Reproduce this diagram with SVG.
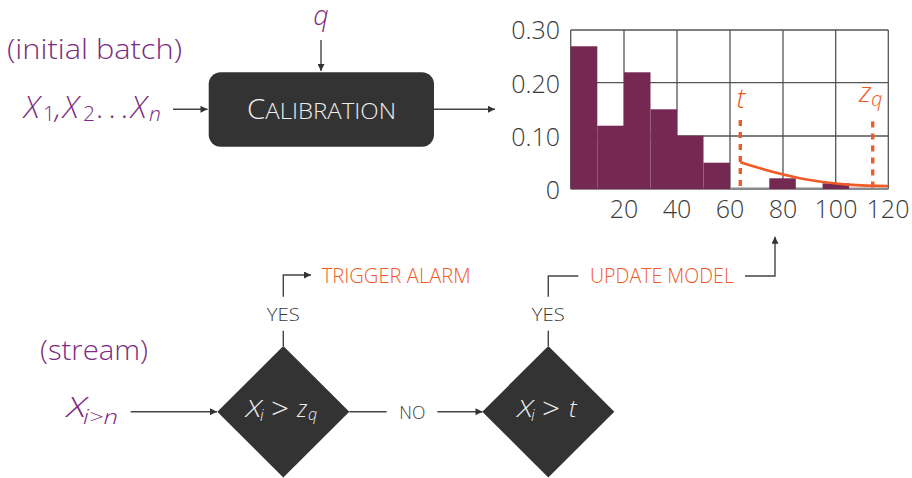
<svg xmlns="http://www.w3.org/2000/svg" width="912" height="478" viewBox="0 0 912 478">
<defs>
<style>
text{font-family:"Open Sans","Noto Sans","DejaVu Sans",sans-serif;font-weight:300}
.pu{fill:#7b2b80}
.or{fill:#f05a26}
.dk{fill:#333}
.lt{fill:#eeeeee}
.it{font-style:italic}
.ax{font-size:25px;fill:#3a3a3a}
.lbl{font-size:18.6px;fill:#3a3a3a}
.cap{font-size:19.5px;fill:#f05a26}
.con{stroke:#444;stroke-width:1.4;fill:none}
.arr{marker-end:url(#ah)}
.grid{stroke:#555;stroke-width:1.3;fill:none}
.bar{fill:#752952}
.node{fill:#333}
</style>
<marker id="ah" viewBox="0 0 10 10" refX="10" refY="5" markerWidth="9" markerHeight="7" markerUnits="userSpaceOnUse" orient="auto">
<path d="M0,0 L10,5 L0,10 z" fill="#333"/>
</marker>
</defs>

<g id="label-initial-batch">
<text class="pu" x="7" y="59" font-size="28" textLength="175" lengthAdjust="spacingAndGlyphs">(initial batch)</text>
</g>

<g id="input-batch">
<text class="pu it" x="24" y="117.5" font-size="31">X</text>
<text class="pu" x="43" y="121" font-size="21">1</text>
<text class="pu it" x="55" y="117.5" font-size="30">,</text>
<text class="pu it" x="63" y="117.5" font-size="31">X</text>
<text class="pu" x="83" y="121" font-size="21">2</text>
<text class="pu" x="96" y="117.5" font-size="30" textLength="32" lengthAdjust="spacing">. . .</text>
<text class="pu it" x="131" y="117.5" font-size="31">X</text>
<text class="pu it" x="149" y="121" font-size="21">n</text>
</g>

<g id="input-q">
<text class="pu it" x="321" y="25" font-size="27" text-anchor="middle">q</text>
</g>

<g id="calibration">
<rect class="node" x="208.7" y="72.3" width="225.3" height="74.4" rx="12"/>
<text class="lt" x="247" y="119" textLength="149" lengthAdjust="spacingAndGlyphs"><tspan font-size="27">C</tspan><tspan font-size="22">ALIBRATION</tspan></text>
</g>

<g id="chart">
<g class="grid">
<line x1="570.7" y1="30" x2="888.3" y2="30"/>
<line x1="570.7" y1="82.7" x2="888.3" y2="82.7"/>
<line x1="570.7" y1="136" x2="888.3" y2="136"/>
<line x1="570.7" y1="30" x2="570.7" y2="189"/>
<line x1="624" y1="30" x2="624" y2="189"/>
<line x1="677" y1="30" x2="677" y2="189"/>
<line x1="730" y1="30" x2="730" y2="189"/>
<line x1="783" y1="30" x2="783" y2="189"/>
<line x1="835.7" y1="30" x2="835.7" y2="189"/>
<line x1="888.3" y1="30" x2="888.3" y2="189"/>
</g>
<line x1="570.7" y1="188.8" x2="888.3" y2="188.8" stroke="#8a8a8a" stroke-width="2.4"/>
<rect class="bar" x="570.7" y="46.3" width="26.6" height="142.7"/>
<rect class="bar" x="597.3" y="125.7" width="26.7" height="63.3"/>
<rect class="bar" x="624" y="72.3" width="26.5" height="116.7"/>
<rect class="bar" x="650.5" y="109.3" width="26.5" height="79.7"/>
<rect class="bar" x="677" y="135.7" width="26.5" height="53.3"/>
<rect class="bar" x="703.5" y="162.7" width="26.5" height="26.3"/>
<rect class="bar" x="769.3" y="178.3" width="26.5" height="10.7"/>
<rect class="bar" x="822.6" y="183.3" width="26.5" height="5.7"/>
<path d="M740.3,162.3 C780,175 820,186 888.3,186" stroke="#f05a26" stroke-width="2.6" fill="none"/>
<line x1="740.3" y1="120" x2="740.3" y2="189" stroke="#f05a26" stroke-width="3.4" stroke-dasharray="6 6"/>
<line x1="872.7" y1="121.5" x2="872.7" y2="189" stroke="#f05a26" stroke-width="3.4" stroke-dasharray="6 6"/>
<text class="or it" x="741" y="108" font-size="28" text-anchor="middle">t</text>
<text class="or it" x="859" y="102" font-size="28">z</text>
<text class="or it" x="871" y="106" font-size="20">q</text>
<g class="ax" text-anchor="end">
<text x="560" y="39">0.30</text>
<text x="560" y="92.5">0.20</text>
<text x="560" y="146">0.10</text>
<text x="560" y="199">0</text>
</g>
<g class="ax" text-anchor="middle">
<text x="624" y="218">20</text>
<text x="677" y="218">40</text>
<text x="730" y="218">60</text>
<text x="783" y="218">80</text>
<text x="836" y="218">100</text>
<text x="888" y="218">120</text>
</g>
</g>

<g id="label-stream">
<text class="pu" x="40" y="360" font-size="28" textLength="108" lengthAdjust="spacingAndGlyphs">(stream)</text>
</g>

<g id="input-stream">
<text class="pu it" x="67" y="417" font-size="28" textLength="19" lengthAdjust="spacingAndGlyphs">X</text>
<text class="pu it" x="83" y="424" font-size="20" textLength="35" lengthAdjust="spacingAndGlyphs">i&gt;n</text>
</g>

<g id="decision-zq">
<path class="node" d="M283.3,346 L349.3,411.7 L283.3,477.4 L217.3,411.7 z"/>
<text class="lt it" x="246" y="417" font-size="23" textLength="15" lengthAdjust="spacingAndGlyphs">X</text>
<text class="lt it" x="260" y="420.5" font-size="16">i</text>
<text class="lt" x="271" y="418.5" font-size="29" textLength="18" lengthAdjust="spacingAndGlyphs">&gt;</text>
<text class="lt it" x="297" y="417" font-size="23">z</text>
<text class="lt it" x="308" y="419.5" font-size="16">q</text>
</g>

<g id="decision-t">
<path class="node" d="M548.3,346 L614.3,411.7 L548.3,477.4 L482.3,411.7 z"/>
<text class="lt it" x="517.5" y="417" font-size="23" textLength="15" lengthAdjust="spacingAndGlyphs">X</text>
<text class="lt it" x="531" y="420.5" font-size="16">i</text>
<text class="lt" x="542" y="418.5" font-size="29" textLength="18" lengthAdjust="spacingAndGlyphs">&gt;</text>
<text class="lt it" x="569" y="417" font-size="24">t</text>
</g>

<g id="action-trigger-alarm">
<text class="cap" x="321.7" y="283.3" textLength="149" lengthAdjust="spacingAndGlyphs">TRIGGER ALARM</text>
</g>

<g id="action-update-model">
<text class="cap" x="590" y="283.3" textLength="144" lengthAdjust="spacingAndGlyphs">UPDATE MODEL</text>
</g>

<g id="connectors">
<line class="con arr" x1="321" y1="40" x2="321" y2="71"/>
<line class="con arr" x1="173" y1="109.3" x2="207.5" y2="109.3"/>
<line class="con arr" x1="434" y1="109.3" x2="495" y2="109.3"/>
<line class="con arr" x1="130.7" y1="411.7" x2="217" y2="411.7"/>
<line class="con" x1="349.3" y1="411.7" x2="386.7" y2="411.7"/>
<line class="con arr" x1="437.3" y1="411.7" x2="482.5" y2="411.7"/>
<line class="con" x1="283.3" y1="346" x2="283.3" y2="330.7"/>
<polyline class="con arr" points="283.3,296.7 283.3,275 311,275"/>
<line class="con" x1="548.3" y1="346" x2="548.3" y2="330.7"/>
<polyline class="con" points="548.3,296.7 548.3,276 578.3,276"/>
<polyline class="con arr" points="745,276 775,276 775,236.7"/>
<text class="lbl" x="283.3" y="321" text-anchor="middle" textLength="33" lengthAdjust="spacingAndGlyphs">YES</text>
<text class="lbl" x="548.3" y="321" text-anchor="middle" textLength="33" lengthAdjust="spacingAndGlyphs">YES</text>
<text class="lbl" x="399.3" y="419" textLength="26" lengthAdjust="spacingAndGlyphs">NO</text>
</g>
</svg>
